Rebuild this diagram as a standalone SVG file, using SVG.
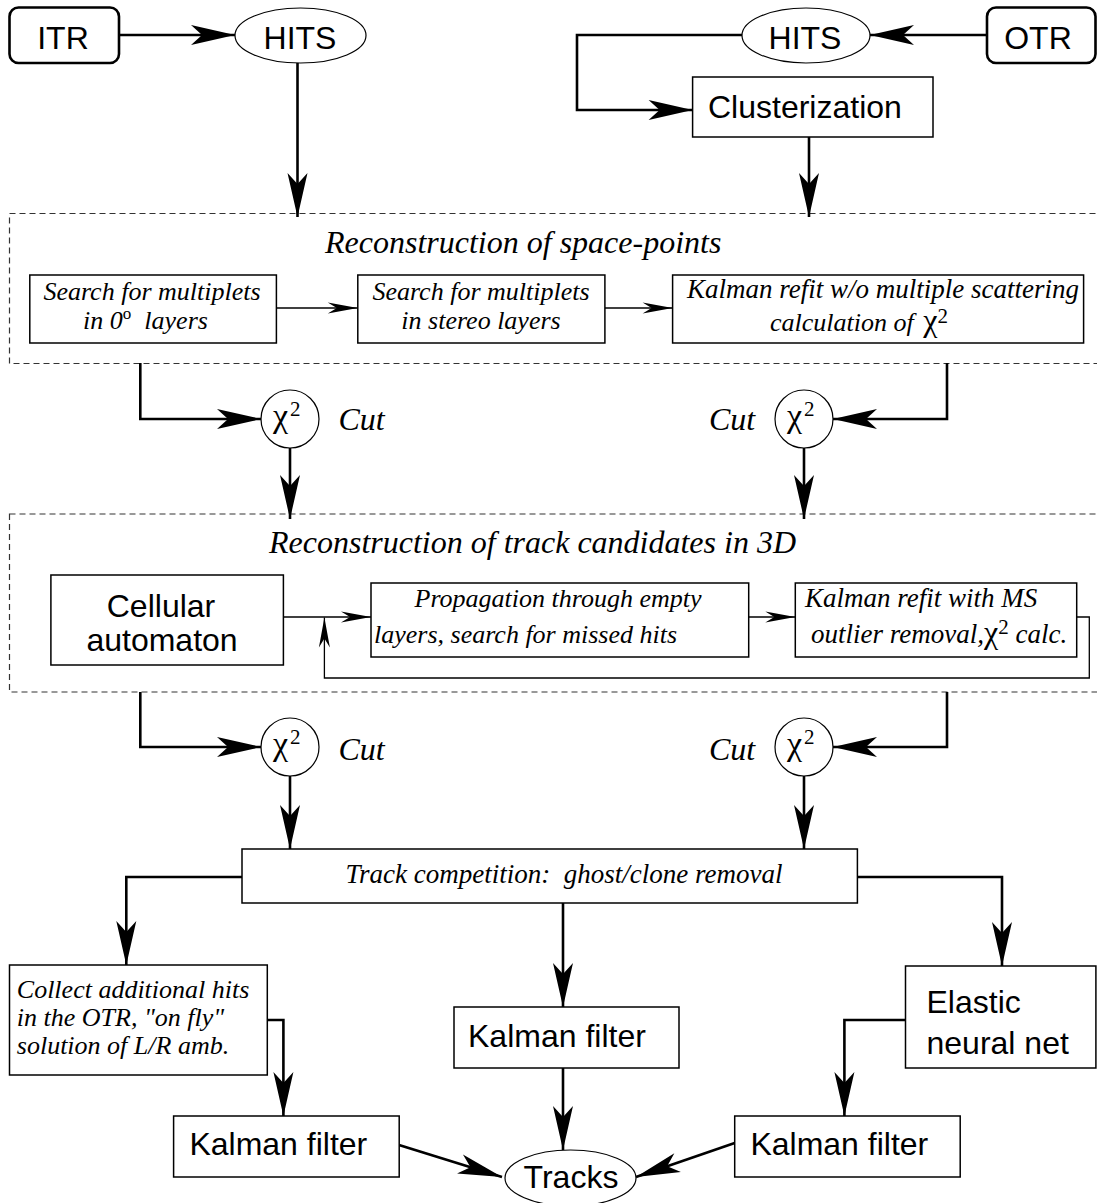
<svg xmlns="http://www.w3.org/2000/svg" width="1097" height="1203" viewBox="0 0 1097 1203">
<style>
.bg{fill:#fff}
.box{fill:#fff;stroke:#000;stroke-width:1.5}
.rbox{fill:#fff;stroke:#000;stroke-width:2.6}
.ell{fill:#fff;stroke:#000;stroke-width:1.2}
.dash{fill:none;stroke:#333;stroke-width:1.2;stroke-dasharray:6 4}
.c{fill:none;stroke:#000;stroke-width:2.6;marker-end:url(#ah)}
.t{fill:none;stroke:#000;stroke-width:1.3;marker-end:url(#ahs)}
.sans{font-family:"Liberation Sans",Arial,sans-serif;font-size:32px;fill:#000}
.it{font-family:"Liberation Serif","Times New Roman",serif;font-style:italic;font-size:26px;fill:#000}
.it27{font-family:"Liberation Serif","Times New Roman",serif;font-style:italic;font-size:27px;fill:#000}
.col{font-family:"Liberation Serif","Times New Roman",serif;font-style:italic;font-size:26px;fill:#000}
.title{font-family:"Liberation Serif","Times New Roman",serif;font-style:italic;font-size:32px;fill:#000}
.sym{font-family:"Liberation Serif","Times New Roman",serif;font-style:normal;font-size:34px;fill:#000}
.sup{font-family:"Liberation Serif","Times New Roman",serif;font-style:normal;font-size:21px}
.chi{font-family:"Liberation Serif","Times New Roman",serif;font-style:normal;font-size:32px}
</style>
<defs>
<marker id="ah" markerUnits="userSpaceOnUse" markerWidth="50" markerHeight="24" viewBox="-46 -12 50 24" refX="0" refY="0" orient="auto">
<path d="M0,0 L-44,-10 L-33,0 L-44,10 Z" fill="#000"/>
</marker>
<marker id="ahs" markerUnits="userSpaceOnUse" markerWidth="34" markerHeight="14" viewBox="-32 -7 34 14" refX="0" refY="0" orient="auto">
<path d="M0,0 L-30,-5.5 L-21,0 L-30,5.5 Z" fill="#000"/>
</marker>
</defs>
<rect class="bg" x="0" y="0" width="1097" height="1203"/>

<g id="stage1">
<rect class="dash" x="9.5" y="213.5" width="1100" height="150"/>
<text class="title" x="325" y="253">Reconstruction of space-points</text>
</g>
<g id="stage2">
<rect class="dash" x="9.5" y="514" width="1100" height="178"/>
<text class="title" x="269" y="553">Reconstruction of track candidates in 3D</text>
</g>

<g id="connectors">
<path class="c" d="M119,35 H235"/>
<path class="c" d="M987,35 H870"/>
<path class="c" d="M297.5,63 V217"/>
<path class="c" d="M742,35 H577 V110 H692.6"/>
<path class="c" d="M809,137 V217"/>
<path class="c" d="M140.3,363 V419 H261"/>
<path class="c" d="M947,363 V419 H833"/>
<path class="c" d="M290,448 V519"/>
<path class="c" d="M804,448 V519"/>
<path class="c" d="M140.3,692 V747 H261"/>
<path class="c" d="M947,692 V747 H833"/>
<path class="c" d="M290,776 V849"/>
<path class="c" d="M804,776 V849"/>
<path class="c" d="M242,877 H126.3 V965"/>
<path class="c" d="M857.4,877 H1002 V966"/>
<path class="c" d="M563,903 V1007"/>
<path class="c" d="M267.3,1020 H283.4 V1116"/>
<path class="c" d="M905.5,1020 H844.4 V1116"/>
<path class="c" d="M563,1068 V1150"/>
<path class="c" d="M399,1145 L502,1177"/>
<path class="c" d="M734.7,1143 L636,1177"/>
<path class="t" d="M276.4,308 H357.8"/>
<path class="t" d="M604.9,308 H672.6"/>
<path class="t" d="M283.4,617 H371"/>
<path class="t" d="M748.7,617 H795.3"/>
<path class="t" d="M1076.7,617 H1089.3 V678 H324.4 V617.5"/>
</g>

<g id="itr">
<rect class="rbox" x="9.5" y="7.5" width="109.5" height="55.5" rx="9"/>
<text class="sans" x="63" y="49" text-anchor="middle">ITR</text>
</g>
<g id="hits-left">
<ellipse class="ell" cx="300.5" cy="35.5" rx="65.5" ry="27.5"/>
<text class="sans" x="300" y="49" text-anchor="middle">HITS</text>
</g>
<g id="hits-right">
<ellipse class="ell" cx="806" cy="35.5" rx="64" ry="27.5"/>
<text class="sans" x="805" y="49" text-anchor="middle">HITS</text>
</g>
<g id="otr">
<rect class="rbox" x="987" y="7.5" width="108.5" height="55.5" rx="9"/>
<text class="sans" x="1038" y="49" text-anchor="middle">OTR</text>
</g>
<g id="clusterization">
<rect class="box" x="692.6" y="77" width="240.4" height="60"/>
<text class="sans" x="708" y="118">Clusterization</text>
</g>

<g id="search-0">
<rect class="box" x="29.8" y="275" width="246.6" height="68"/>
<text class="it" x="152" y="300" text-anchor="middle">Search for multiplets</text>
<text class="it" x="145.5" y="329" text-anchor="middle" xml:space="preserve">in 0<tspan dy="-10" font-size="17" font-style="normal">o</tspan><tspan dy="10">  layers</tspan></text>
</g>
<g id="search-stereo">
<rect class="box" x="357.8" y="275" width="247.1" height="68"/>
<text class="it" x="481" y="300" text-anchor="middle">Search for multiplets</text>
<text class="it" x="481" y="329" text-anchor="middle">in stereo layers</text>
</g>
<g id="kalman-refit-1">
<rect class="box" x="672.6" y="275" width="411" height="68"/>
<text class="it27" x="687" y="298">Kalman refit w/o multiple scattering</text>
<text class="it" x="770" y="331">calculation of <tspan class="chi" dx="3">χ</tspan><tspan class="sup" dy="-8">2</tspan></text>
</g>

<g id="chi2-1l">
<circle class="ell" cx="290" cy="419" r="29"/>
<text class="sym" x="273" y="427">χ<tspan class="sup" dx="2" dy="-11">2</tspan></text>
<text class="title" x="338.5" y="430">Cut</text>
</g>
<g id="chi2-1r">
<circle class="ell" cx="804" cy="419" r="29"/>
<text class="sym" x="787" y="427">χ<tspan class="sup" dx="2" dy="-11">2</tspan></text>
<text class="title" x="709" y="430">Cut</text>
</g>

<g id="cellular">
<rect class="box" x="50.9" y="575" width="232.5" height="90"/>
<text class="sans" x="161" y="617" text-anchor="middle">Cellular</text>
<text class="sans" x="162" y="651" text-anchor="middle">automaton</text>
</g>
<g id="propagation">
<rect class="box" x="371" y="583" width="377.7" height="74"/>
<text class="it" x="558" y="607" text-anchor="middle">Propagation through empty</text>
<text class="it" x="374" y="643" font-size="29">layers, search for missed hits</text>
</g>
<g id="kalman-refit-2">
<rect class="box" x="795.3" y="583" width="281.4" height="74"/>
<text class="it27" x="805" y="607">Kalman refit with MS</text>
<text class="it27" x="811" y="643">outlier removal,<tspan class="chi">χ</tspan><tspan class="sup" dy="-9">2</tspan><tspan dy="9"> calc.</tspan></text>
</g>

<g id="chi2-2l">
<circle class="ell" cx="290" cy="747" r="29"/>
<text class="sym" x="273" y="755">χ<tspan class="sup" dx="2" dy="-11">2</tspan></text>
<text class="title" x="338.5" y="760">Cut</text>
</g>
<g id="chi2-2r">
<circle class="ell" cx="804" cy="747" r="29"/>
<text class="sym" x="787" y="755">χ<tspan class="sup" dx="2" dy="-11">2</tspan></text>
<text class="title" x="709" y="760">Cut</text>
</g>

<g id="track-competition">
<rect class="box" x="242" y="849" width="615.4" height="54"/>
<text class="it27" x="345.5" y="883" xml:space="preserve">Track competition:  ghost/clone removal</text>
</g>
<g id="collect">
<rect class="box" x="9.5" y="965" width="257.8" height="110"/>
<text class="col" x="16.8" y="998">Collect additional hits</text>
<text class="col" x="16.8" y="1026">in the OTR, "on fly"</text>
<text class="col" x="16.8" y="1054">solution of L/R amb.</text>
</g>
<g id="kalman-mid">
<rect class="box" x="454" y="1007" width="225" height="61"/>
<text class="sans" x="468" y="1047">Kalman filter</text>
</g>
<g id="elastic">
<rect class="box" x="905.5" y="966" width="190.4" height="102"/>
<text class="sans" x="926.5" y="1013">Elastic</text>
<text class="sans" x="926.5" y="1054">neural net</text>
</g>
<g id="kalman-left">
<rect class="box" x="173.6" y="1116" width="225.6" height="61"/>
<text class="sans" x="189.4" y="1155">Kalman filter</text>
</g>
<g id="kalman-right">
<rect class="box" x="734.7" y="1116" width="225.5" height="61"/>
<text class="sans" x="750.4" y="1155">Kalman filter</text>
</g>
<g id="tracks">
<ellipse class="ell" cx="570.5" cy="1178" rx="65.5" ry="28"/>
<text class="sans" x="571" y="1188" text-anchor="middle">Tracks</text>
</g>
</svg>
